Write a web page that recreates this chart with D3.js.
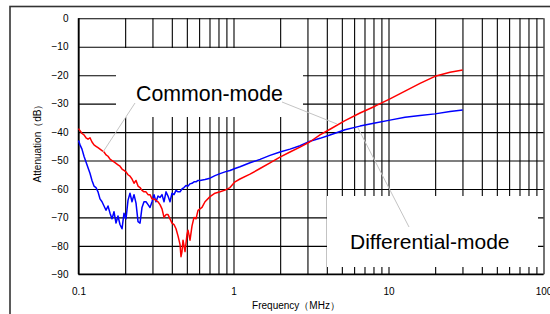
<!DOCTYPE html>
<html>
<head>
<meta charset="utf-8">
<script src="https://cdnjs.cloudflare.com/ajax/libs/d3/7.8.5/d3.min.js"></script>
<style>
body { margin: 0; background: #fff; }
svg text { font-family: "Liberation Sans", Arial, sans-serif; fill: #000; }
.grid line { stroke: #000; stroke-width: 1.1; }
.grid path { display: none; }
.axis path, .axis line { display: none; }
</style>
</head>
<body>
<svg width="550" height="314"></svg>
<script>
// Tick labels
var yTicks = [0, -10, -20, -30, -40, -50, -60, -70, -80, -90];
var xTicks = [0.1, 1, 10, 100];
var xGrid = [0.1, 0.2, 0.3, 0.4, 0.5, 0.6, 0.7, 0.8, 0.9,
  1, 2, 3, 4, 5, 6, 7, 8, 9, 10, 20, 30, 40, 50, 60, 70, 80, 90, 100];

// Common-mode (red) : frequency in MHz, attenuation in dB
var cmFreq = [0.1, 0.1023, 0.1053, 0.1085, 0.1118, 0.1152, 0.1186, 0.1222, 0.1259, 0.1297,
  0.1336, 0.1376, 0.1418, 0.1461, 0.1505, 0.155, 0.1597, 0.1645, 0.1694, 0.1746,
  0.1798, 0.1852, 0.1909, 0.1966, 0.2025, 0.2086, 0.2149, 0.2214, 0.2281, 0.235,
  0.2421, 0.2494, 0.2569, 0.2646, 0.2726, 0.2809, 0.2893, 0.2981, 0.3071, 0.3162,
  0.3258, 0.3356, 0.3457, 0.3562, 0.3669, 0.378, 0.3894, 0.4011, 0.4132, 0.4257,
  0.4385, 0.4518, 0.4585, 0.4654, 0.4724, 0.4867, 0.5012, 0.5088, 0.5241, 0.54,
  0.5563, 0.573, 0.5903, 0.6081, 0.6264, 0.6549, 0.7054, 0.7597, 0.8184, 0.8815,
  0.9493, 1.0225, 1.101, 1.278, 1.483, 1.72, 1.995, 2.315, 2.685, 3.116,
  3.614, 4.194, 5.241, 6.549, 8.184, 10.22, 12.78, 15.97, 19.95, 24.94, 30.1];
var cmDb = [-38.8, -39.5, -40.5, -41, -42, -42.5, -42, -43.5, -44.5, -45,
  -45.5, -46, -46.5, -47, -48, -48.5, -49.5, -50, -50.5, -51,
  -51.5, -52, -53, -53.5, -54, -55, -55.5, -56.5, -58, -57,
  -59, -59.5, -60.5, -61, -61, -62, -62, -63.5, -63.5, -64,
  -64.5, -65.5, -67, -70, -69, -69, -70.5, -72, -72.5, -74,
  -76.5, -79.5, -83.8, -82, -78, -82, -76, -74.5, -78, -73,
  -70, -70.5, -67.5, -67, -66.5, -64.5, -62.7, -61.5, -61, -60.4,
  -59.5, -57.5, -56.5, -54.8, -52.8, -50.8, -48.8, -47, -45.3, -43.4,
  -41, -39, -36, -33.3, -30.9, -28.3, -25.6, -22.9, -20.4, -19, -18.2];

// Differential-mode (blue)
var dmFreq = [0.1, 0.1023, 0.1053, 0.1085, 0.1118, 0.1152, 0.1186, 0.1222, 0.1259, 0.1297,
  0.1336, 0.1376, 0.1418, 0.1461, 0.1505, 0.155, 0.1597, 0.1645, 0.1694, 0.1746,
  0.1798, 0.1852, 0.1909, 0.1966, 0.2025, 0.2086, 0.2149, 0.2214, 0.2281, 0.235,
  0.2421, 0.2494, 0.2569, 0.2646, 0.2726, 0.2809, 0.2893, 0.2981, 0.3071, 0.3162,
  0.3258, 0.3356, 0.3457, 0.3562, 0.3669, 0.378, 0.3894, 0.4011, 0.4132, 0.4257,
  0.4385, 0.4518, 0.4654, 0.4794, 0.4939, 0.5088, 0.5241, 0.54, 0.5563, 0.573,
  0.5903, 0.6081, 0.6549, 0.7054, 0.7597, 0.8184, 0.8815, 0.9493, 1.0225, 1.101,
  1.278, 1.483, 1.72, 1.995, 2.315, 2.685, 3.116, 3.614, 4.194, 5.241,
  6.549, 8.184, 10.22, 12.78, 15.97, 19.95, 24.94, 30.1];
var dmDb = [-43, -44.5, -46, -48.5, -50.5, -52.5, -54.5, -57, -59, -59.5,
  -61, -63.5, -64.5, -66, -67.5, -66, -68.5, -70.5, -68, -72,
  -69.5, -72.5, -74, -68.5, -70.5, -64, -61.5, -64.5, -62, -65,
  -71.5, -72, -66.5, -64.5, -64.5, -65.5, -66.5, -64.5, -62, -64.5,
  -62.5, -63, -62, -64.5, -61, -62.5, -64.5, -61.5, -62, -60.5,
  -61, -61, -60, -59.5, -58.8, -59, -58.2, -58, -57.5, -57.5,
  -57, -57, -56.7, -56.2, -55.3, -54.6, -54, -53.5, -52.8, -52.2,
  -50.8, -49.6, -48.2, -47, -46, -44.8, -43.2, -42.2, -41, -39.2,
  -37.9, -36.8, -35.8, -34.8, -34.2, -33.6, -32.8, -32.2];

var svg = d3.select('svg');

var scaleX = d3.scaleLog().domain([0.1, 100]).range([78.5, 543.5]);
var scaleY = d3.scaleLinear().domain([0, -90]).range([18.3, 274.3]);

// outer frame (only top/left edges fall inside the picture)
svg.append('rect')
  .attr('x', 10).attr('y', 6.5)
  .attr('width', 600).attr('height', 400)
  .attr('fill', 'none').attr('stroke', '#333').attr('stroke-width', 1.6);

// grid
svg.append('g').attr('class', 'grid')
  .attr('transform', 'translate(0,274.3)')
  .call(d3.axisBottom(scaleX).tickValues(xGrid).tickSize(-256).tickFormat(''));
svg.append('g').attr('class', 'grid')
  .attr('transform', 'translate(78.5,0)')
  .call(d3.axisLeft(scaleY).tickValues(yTicks).tickSize(-465).tickFormat(''));

// axis lines
svg.append('line').attr('x1', 78.5).attr('x2', 78.5).attr('y1', 18.3).attr('y2', 274.3)
  .attr('stroke', '#000').attr('stroke-width', 1.5);
svg.append('line').attr('x1', 78.5).attr('x2', 543.5).attr('y1', 274.3).attr('y2', 274.3)
  .attr('stroke', '#000').attr('stroke-width', 1.5);

// white label boxes
svg.append('rect').attr('x', 116).attr('y', 48).attr('width', 187).attr('height', 69).attr('fill', '#fff');
svg.append('rect').attr('x', 327).attr('y', 196).attr('width', 211).attr('height', 71).attr('fill', '#fff');

// tick labels
svg.append('g').attr('class', 'axis')
  .attr('transform', 'translate(78.5,0)')
  .call(d3.axisLeft(scaleY).tickValues(yTicks).tickSize(0).tickPadding(10))
  .selectAll('text').style('font-size', '10px').style('font-family', '"Liberation Sans", Arial, sans-serif');
svg.append('g').attr('class', 'axis')
  .attr('transform', 'translate(0,274.3)')
  .call(d3.axisBottom(scaleX).tickValues(xTicks).tickSize(0).tickPadding(14).tickFormat(d3.format('')))
  .selectAll('text').style('font-size', '10px').style('font-family', '"Liberation Sans", Arial, sans-serif');

// axis titles
svg.append('text').attr('x', 296).attr('y', 308.5)
  .attr('text-anchor', 'middle').style('font-size', '10px')
  .text('Frequency（MHz）');
svg.append('text')
  .attr('transform', 'translate(41,141)rotate(-90)')
  .attr('text-anchor', 'middle').style('font-size', '10px')
  .text('Attenuation（dB）');

// curves
var line = d3.line()
  .x(function(d) { return scaleX(d[0]); })
  .y(function(d) { return scaleY(d[1]); });

svg.append('path')
  .datum(d3.zip(dmFreq, dmDb))
  .attr('d', line).attr('fill', 'none')
  .attr('stroke', '#0000ff').attr('stroke-width', 1.5).attr('stroke-linejoin', 'round');
svg.append('path')
  .datum(d3.zip(cmFreq, cmDb))
  .attr('d', line).attr('fill', 'none')
  .attr('stroke', '#ff0000').attr('stroke-width', 1.5).attr('stroke-linejoin', 'round');

// leader lines
var leaders = [[135, 103, 103, 152], [282, 102, 337, 124], [358, 128, 409, 227]];
svg.selectAll('.leader').data(leaders).enter().append('line')
  .attr('class', 'leader')
  .attr('x1', function(d) { return d[0]; }).attr('y1', function(d) { return d[1]; })
  .attr('x2', function(d) { return d[2]; }).attr('y2', function(d) { return d[3]; })
  .attr('stroke', '#c4c4c4').attr('stroke-width', 1);

// labels
svg.append('text').attr('x', 209.5).attr('y', 101)
  .attr('text-anchor', 'middle').style('font-size', '21.3px').text('Common-mode');
svg.append('text').attr('x', 350).attr('y', 249)
  .style('font-size', '21px').text('Differential-mode');
</script>
</body>
</html>
